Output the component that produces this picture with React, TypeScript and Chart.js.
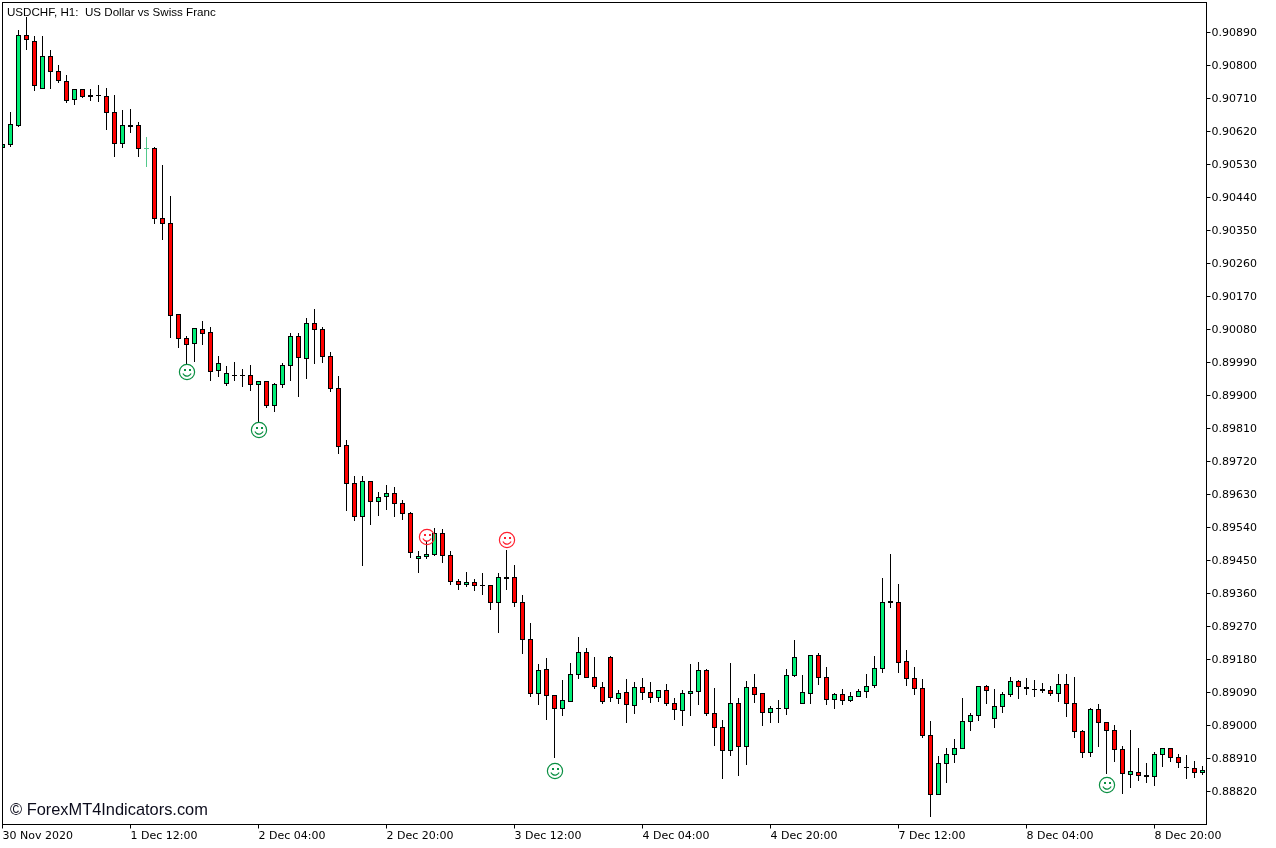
import React, { useEffect, useRef } from 'react';
import { Chart, registerables } from 'chart.js';

Chart.register(...registerables);

const chartTitle = 'USDCHF, H1:  US Dollar vs Swiss Franc';
const watermark = '© ForexMT4Indicators.com';

const opens = [
  0.90576, 0.90585, 0.90636, 0.90882, 0.90865, 0.90737, 0.90825, 0.90784, 0.90756, 0.90707,
  0.90735, 0.90718, 0.90718, 0.90715, 0.90672, 0.90587, 0.90636, 0.90636, 0.90574, 0.90574,
  0.90383, 0.90369, 0.90121, 0.90055, 0.90042, 0.90080, 0.90072, 0.89968, 0.89933, 0.89955,
  0.89955, 0.89955, 0.89930, 0.89938, 0.89873, 0.89930, 0.89982, 0.90061, 0.90001, 0.90096,
  0.90080, 0.90006, 0.89919, 0.89764, 0.89660, 0.89570, 0.89665, 0.89611, 0.89625, 0.89633,
  0.89605, 0.89578, 0.89455, 0.89461, 0.89466, 0.89524, 0.89464, 0.89393, 0.89385, 0.89390,
  0.89382, 0.89382, 0.89335, 0.89404, 0.89404, 0.89335, 0.89235, 0.89087, 0.89153, 0.89082,
  0.89046, 0.89065, 0.89139, 0.89199, 0.89131, 0.89104, 0.89185, 0.89074, 0.89090, 0.89055,
  0.89104, 0.89090, 0.89076, 0.89095, 0.89060, 0.89041, 0.89087, 0.89093, 0.89150, 0.89033,
  0.88995, 0.88932, 0.89060, 0.88943, 0.89104, 0.89087, 0.89035, 0.89046, 0.89046, 0.89136,
  0.89060, 0.89087, 0.89191, 0.89131, 0.89071, 0.89085, 0.89068, 0.89079, 0.89093, 0.89109,
  0.89155, 0.89338, 0.89335, 0.89175, 0.89128, 0.89101, 0.88973, 0.88812, 0.88896, 0.88921,
  0.88937, 0.89011, 0.89027, 0.89106, 0.89019, 0.89052, 0.89085, 0.89120, 0.89104, 0.89098,
  0.89098, 0.89095, 0.89087, 0.89112, 0.89060, 0.88984, 0.88926, 0.89044, 0.89008, 0.88986,
  0.88935, 0.88866, 0.88872, 0.88864, 0.88861, 0.88921, 0.88937, 0.88913, 0.88885, 0.88883, 0.88872,
];

const closes = [
  0.90585, 0.90639, 0.90882, 0.90871, 0.90745, 0.90825, 0.90784, 0.90759, 0.90705, 0.90735,
  0.90715, 0.90715, 0.90718, 0.90672, 0.90587, 0.90636, 0.90634, 0.90574, 0.90574, 0.90383,
  0.90369, 0.90118, 0.90055, 0.90039, 0.90083, 0.90069, 0.89965, 0.89987, 0.89960, 0.89955,
  0.89955, 0.89930, 0.89938, 0.89873, 0.89930, 0.89982, 0.90061, 0.90004, 0.90096, 0.90080,
  0.90006, 0.89919, 0.89761, 0.89660, 0.89570, 0.89665, 0.89611, 0.89622, 0.89633, 0.89605,
  0.89578, 0.89472, 0.89461, 0.89466, 0.89524, 0.89464, 0.89393, 0.89385, 0.89390, 0.89382,
  0.89382, 0.89335, 0.89404, 0.89401, 0.89335, 0.89235, 0.89087, 0.89150, 0.89082, 0.89046,
  0.89068, 0.89139, 0.89199, 0.89131, 0.89106, 0.89065, 0.89076, 0.89087, 0.89057, 0.89104,
  0.89090, 0.89076, 0.89095, 0.89060, 0.89044, 0.89087, 0.89093, 0.89150, 0.89033, 0.88995,
  0.88932, 0.89060, 0.88943, 0.89104, 0.89085, 0.89035, 0.89046, 0.89046, 0.89136, 0.89185,
  0.89090, 0.89191, 0.89131, 0.89071, 0.89085, 0.89068, 0.89079, 0.89093, 0.89106, 0.89155,
  0.89335, 0.89335, 0.89172, 0.89128, 0.89101, 0.88973, 0.88812, 0.88896, 0.88921, 0.88937,
  0.89011, 0.89027, 0.89106, 0.89095, 0.89052, 0.89085, 0.89120, 0.89106, 0.89101, 0.89098,
  0.89095, 0.89087, 0.89112, 0.89060, 0.88984, 0.88926, 0.89044, 0.89008, 0.88986, 0.88935,
  0.88869, 0.88875, 0.88864, 0.88861, 0.88921, 0.88937, 0.88913, 0.88899, 0.88885, 0.88872, 0.88877,
];

const highs = [
  0.90585, 0.90672, 0.90895, 0.90931, 0.90879, 0.90879, 0.90841, 0.90800, 0.90773, 0.90735,
  0.90735, 0.90735, 0.90745, 0.90737, 0.90718, 0.90677, 0.90680, 0.90645, 0.90604, 0.90576,
  0.90527, 0.90443, 0.90121, 0.90061, 0.90083, 0.90102, 0.90085, 0.90006, 0.89979, 0.89990,
  0.89971, 0.89982, 0.89938, 0.89938, 0.89933, 0.89987, 0.90069, 0.90069, 0.90110, 0.90135,
  0.90085, 0.90017, 0.89952, 0.89777, 0.89679, 0.89679, 0.89665, 0.89635, 0.89655, 0.89649,
  0.89614, 0.89581, 0.89475, 0.89502, 0.89537, 0.89535, 0.89475, 0.89398, 0.89417, 0.89398,
  0.89415, 0.89382, 0.89415, 0.89477, 0.89436, 0.89355, 0.89278, 0.89166, 0.89183, 0.89082,
  0.89123, 0.89169, 0.89240, 0.89210, 0.89185, 0.89117, 0.89188, 0.89095, 0.89125, 0.89117,
  0.89128, 0.89117, 0.89095, 0.89112, 0.89074, 0.89095, 0.89166, 0.89172, 0.89153, 0.89101,
  0.89014, 0.89169, 0.89074, 0.89120, 0.89139, 0.89087, 0.89052, 0.89068, 0.89153, 0.89232,
  0.89136, 0.89191, 0.89196, 0.89158, 0.89087, 0.89098, 0.89090, 0.89098, 0.89139, 0.89188,
  0.89401, 0.89466, 0.89385, 0.89205, 0.89158, 0.89125, 0.89011, 0.88915, 0.88937, 0.88962,
  0.89074, 0.89033, 0.89106, 0.89109, 0.89098, 0.89090, 0.89131, 0.89123, 0.89128, 0.89123,
  0.89115, 0.89106, 0.89139, 0.89139, 0.89131, 0.88986, 0.89046, 0.89057, 0.89008, 0.89000,
  0.88943, 0.88986, 0.88937, 0.88896, 0.88926, 0.88937, 0.88937, 0.88921, 0.88918, 0.88902, 0.88888,
];

const lows = [
  0.90576, 0.90579, 0.90634, 0.90844, 0.90732, 0.90737, 0.90737, 0.90754, 0.90699, 0.90694,
  0.90713, 0.90705, 0.90702, 0.90625, 0.90552, 0.90576, 0.90617, 0.90552, 0.90525, 0.90369,
  0.90325, 0.90058, 0.90031, 0.89985, 0.89993, 0.90039, 0.89941, 0.89952, 0.89927, 0.89941,
  0.89925, 0.89914, 0.89829, 0.89867, 0.89856, 0.89922, 0.89941, 0.89897, 0.89946, 0.89987,
  0.89990, 0.89911, 0.89742, 0.89586, 0.89559, 0.89436, 0.89548, 0.89573, 0.89589, 0.89570,
  0.89562, 0.89458, 0.89417, 0.89455, 0.89464, 0.89445, 0.89385, 0.89371, 0.89379, 0.89368,
  0.89357, 0.89316, 0.89254, 0.89371, 0.89325, 0.89196, 0.89079, 0.89057, 0.89016, 0.88913,
  0.89027, 0.89065, 0.89128, 0.89131, 0.89101, 0.89060, 0.89065, 0.89060, 0.89008, 0.89033,
  0.89071, 0.89063, 0.89065, 0.89055, 0.89016, 0.89000, 0.89027, 0.89057, 0.89027, 0.88945,
  0.88855, 0.88918, 0.88864, 0.88894, 0.89063, 0.89000, 0.89008, 0.89008, 0.89030, 0.89134,
  0.89060, 0.89060, 0.89112, 0.89057, 0.89046, 0.89057, 0.89065, 0.89079, 0.89076, 0.89104,
  0.89145, 0.89322, 0.89145, 0.89109, 0.89085, 0.88967, 0.88752, 0.88812, 0.88845, 0.88899,
  0.88937, 0.88986, 0.89014, 0.89060, 0.88995, 0.89035, 0.89079, 0.89074, 0.89085, 0.89079,
  0.89090, 0.89082, 0.89065, 0.89025, 0.88967, 0.88913, 0.88915, 0.88943, 0.88869, 0.88902,
  0.88815, 0.88831, 0.88850, 0.88845, 0.88836, 0.88888, 0.88902, 0.88885, 0.88855, 0.88858, 0.88866,
];

// the one bar MT4 drew as a pale green cross
const paleBars = [18];

const priceTicks = [
  0.8882, 0.8891, 0.89, 0.8909, 0.8918, 0.8927, 0.8936, 0.8945, 0.8954, 0.8963, 0.8972, 0.8981,
  0.899, 0.8999, 0.9008, 0.9017, 0.9026, 0.9035, 0.9044, 0.9053, 0.9062, 0.9071, 0.908, 0.9089,
];

const timeTickBars = [0, 16, 32, 48, 64, 80, 96, 112, 128, 144];
const timeLabels = [
  '30 Nov 2020', '1 Dec 12:00', '2 Dec 04:00', '2 Dec 20:00', '3 Dec 12:00',
  '4 Dec 04:00', '4 Dec 20:00', '7 Dec 12:00', '8 Dec 04:00', '8 Dec 20:00',
];

// smiley arrows from the indicator
const greenSmileBars = [23, 32, 69, 138];
const greenSmilePrices = [0.89963, 0.89807, 0.88877, 0.88839];
const redSmileBars = [53, 63];
const redSmilePrices = [0.89513, 0.89505];

const UP = '#00ee76';
const DOWN = '#ff0000';
const PALE = '#52c98c';

const smiley = (color: string) => {
  const c = document.createElement('canvas');
  c.width = 18;
  c.height = 18;
  const g = c.getContext('2d')!;
  g.strokeStyle = color;
  g.fillStyle = color;
  g.lineWidth = 1.2;
  g.beginPath();
  g.arc(9, 9, 7.6, 0, Math.PI * 2);
  g.stroke();
  g.fillRect(6, 6, 2, 2);
  g.fillRect(11, 6, 2, 2);
  g.beginPath();
  g.arc(9, 8.5, 4.6, Math.PI * 0.15, Math.PI * 0.85);
  g.stroke();
  return c;
};

// MT4 candles sit on whole pixels, so snap what the bar controller computed
const snapPlugin = {
  id: 'snapToPixels',
  beforeDatasetsDraw(chart: any) {
    chart.getSortedVisibleDatasetMetas().forEach((meta: any) => {
      meta.data.forEach((el: any) => {
        if (meta.type === 'bar') {
          const top = Math.floor(Math.min(el.y, el.base));
          const bottom = Math.ceil(Math.max(el.y, el.base));
          el.y = top;
          el.base = bottom;
        } else {
          el.x = Math.ceil(el.x);
          el.y = Math.round(el.y);
        }
      });
    });
  },
};

const framePlugin = {
  id: 'frameAndText',
  afterDraw(chart: any) {
    const { ctx, chartArea } = chart;
    ctx.save();
    ctx.strokeStyle = '#000';
    ctx.lineWidth = 1;
    ctx.strokeRect(chartArea.left, chartArea.top, chartArea.right - chartArea.left, chartArea.bottom - chartArea.top);
    ctx.fillStyle = '#000';
    ctx.textBaseline = 'alphabetic';
    ctx.font = '11.6px "Liberation Sans"';
    ctx.fillText(chartTitle, 7, 16);
    ctx.font = '16.4px "Liberation Sans"';
    ctx.fillStyle = '#0c0c1c';
    ctx.fillText(watermark, 10, 815);
    ctx.restore();
  },
};

const App: React.FC = () => {
  const canvasRef = useRef<HTMLCanvasElement | null>(null);

  useEffect(() => {
    if (!canvasRef.current) return;
    document.body.style.margin = '0';
    document.body.style.background = '#fff';

    const barColor = (i: number) => {
      if (closes[i] > opens[i]) return UP;
      if (closes[i] < opens[i]) return DOWN;
      return '#000';
    };
    const lineColor = (i: number) => (paleBars.includes(i) ? PALE : '#000');

    const chart = new Chart(canvasRef.current, {
      type: 'bar',
      data: {
        datasets: [
          {
            label: 'body',
            order: 2,
            data: opens.map((o, i) => ({ x: i, y: [o, closes[i]] })),
            barThickness: 5,
            borderWidth: 1,
            borderSkipped: false,
            inflateAmount: 0,
            grouped: false,
            backgroundColor: (c: any) => barColor(c.dataIndex),
            borderColor: (c: any) => lineColor(c.dataIndex),
          },
          {
            label: 'wick',
            order: 3,
            data: highs.map((h, i) => ({ x: i, y: [lows[i], h] })),
            barThickness: 1,
            borderWidth: 0,
            inflateAmount: 0,
            grouped: false,
            backgroundColor: (c: any) => lineColor(c.dataIndex),
          },
          {
            type: 'scatter',
            label: 'green smiley',
            order: 1,
            data: greenSmileBars.map((b, i) => ({ x: b, y: greenSmilePrices[i] })),
            pointStyle: smiley('#0a8f42'),
          },
          {
            type: 'scatter',
            label: 'red smiley',
            order: 1,
            data: redSmileBars.map((b, i) => ({ x: b, y: redSmilePrices[i] })),
            pointStyle: smiley('#ff1f2e'),
          },
        ] as any,
      },
      options: {
        responsive: false,
        animation: false,
        events: [],
        // autoPadding would push the area in by the point radius
        layout: { autoPadding: false, padding: { left: 2.5, top: 2.5, right: 0, bottom: 0 } },
        plugins: { legend: { display: false }, tooltip: { enabled: false }, title: { display: false } },
        scales: {
          x: {
            type: 'linear',
            offset: false,
            min: 0,
            max: 150.5,
            grid: { display: true, offset: false, drawOnChartArea: false, tickLength: 4, tickColor: '#000' },
            border: { display: true, color: '#000' },
            ticks: {
              align: 'start',
              autoSkip: false,
              maxRotation: 0,
              minRotation: 0,
              padding: 1,
              color: '#000',
              font: { family: '"DejaVu Sans"', size: 11 },
              callback: (_v: any, i: number) => timeLabels[i],
            },
            afterBuildTicks: (s: any) => {
              s.ticks = timeTickBars.map((value) => ({ value }));
            },
            afterFit: (s: any) => {
              s.height = 23.5;
              s.paddingLeft = 0;
              s.paddingRight = 0;
            },
          },
          y: {
            type: 'linear',
            position: 'right',
            beginAtZero: false,
            min: 0.8873,
            max: 0.90971818,
            grid: { display: true, drawOnChartArea: false, tickLength: 4, tickColor: '#000' },
            border: { display: true, color: '#000' },
            ticks: {
              autoSkip: false,
              padding: 1,
              labelOffset: 1,
              color: '#000',
              font: { family: '"DejaVu Sans"', size: 11 },
              callback: (v: any) => Number(v).toFixed(5),
            },
            afterBuildTicks: (s: any) => {
              s.ticks = priceTicks.map((value) => ({ value }));
            },
            afterFit: (s: any) => {
              s.width = 69.5;
              s.paddingTop = 0;
              s.paddingBottom = 0;
            },
          },
        },
      } as any,
      plugins: [snapPlugin, framePlugin],
    });

    return () => chart.destroy();
  }, []);

  return <canvas ref={canvasRef} width={1276} height={848} style={{ display: 'block' }} />;
};

export default App;
